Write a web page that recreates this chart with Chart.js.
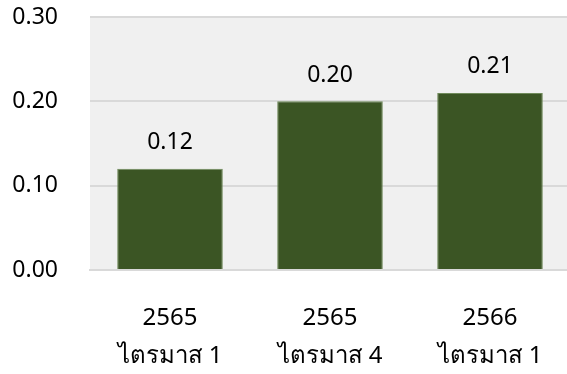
<!DOCTYPE html>
<html>
<head>
<meta charset="utf-8">
<script src="https://cdn.jsdelivr.net/npm/chart.js@4/dist/chart.umd.min.js"></script>
<style>
html,body{margin:0;padding:0;background:#fff;overflow:hidden;width:567px;height:374px;}
#wrap{position:relative;width:570px;height:374px;}
</style>
</head>
<body>
<div id="wrap"><canvas id="c"></canvas></div>
<script>
const yearLabels = ['2565', '2565', '2566'];
const quarterLabels = ['ไตรมาส 1', 'ไตรมาส 4', 'ไตรมาส 1'];
const values = [0.12, 0.20, 0.21];
const yTicks = [0, 0.1, 0.2, 0.3];

const FONT = "'Noto Sans', 'DejaVu Sans', sans-serif";

const bgPlugin = {
  id: 'plotBg',
  beforeDraw(chart) {
    const {ctx, chartArea: a} = chart;
    ctx.save();
    ctx.fillStyle = '#f0f0f0';
    ctx.fillRect(a.left, a.top, a.right - a.left, a.bottom - a.top);
    ctx.restore();
  }
};

const labelPlugin = {
  id: 'valLabels',
  afterDatasetsDraw(chart) {
    const {ctx} = chart;
    const meta = chart.getDatasetMeta(0);
    ctx.save();
    ctx.font = '23px ' + FONT;
    ctx.fillStyle = '#000';
    ctx.textAlign = 'center';
    ctx.textBaseline = 'middle';
    meta.data.forEach((bar, i) => {
      ctx.fillText(values[i].toFixed(2), bar.x, bar.y - 26);
    });
    ctx.restore();
  }
};

new Chart(document.getElementById('c'), {
  type: 'bar',
  data: {
    labels: yearLabels.map((y, i) => [y, quarterLabels[i]]),
    datasets: [{
      data: values,
      backgroundColor: '#3b5524',
      borderColor: '#6f8a5a',
      borderWidth: 1,
      categoryPercentage: 1,
      barPercentage: 0.66
    }]
  },
  options: {
    responsive: true,
    maintainAspectRatio: false,
    animation: false,
    layout: {padding: {top: 17, right: 0, left: 0, bottom: 0}},
    plugins: {legend: {display: false}, tooltip: {enabled: false}},
    scales: {
      x: {
        grid: {display: false, drawTicks: false},
        border: {display: true, color: '#d9d9d9', width: 2},
        ticks: {
          color: '#000',
          font: {family: FONT, size: 24, lineHeight: 1.583},
          padding: 29,
          maxRotation: 0
        },
        afterFit(s) { s.height = 104; s.paddingLeft = 0; s.paddingRight = 0; }
      },
      y: {
        min: 0, max: 0.3,
        afterBuildTicks(s) { s.ticks = yTicks.map(v => ({value: v})); },
        grid: {color: '#d9d9d9', lineWidth: 2, drawTicks: false},
        border: {display: false},
        ticks: {
          color: '#000',
          font: {family: FONT, size: 23},
          padding: 32,
          callback: v => v.toFixed(2)
        },
        afterFit(s) { s.width = 90; s.paddingTop = 0; s.paddingBottom = 0; }
      }
    }
  },
  plugins: [bgPlugin, labelPlugin]
});
</script>
</body>
</html>
